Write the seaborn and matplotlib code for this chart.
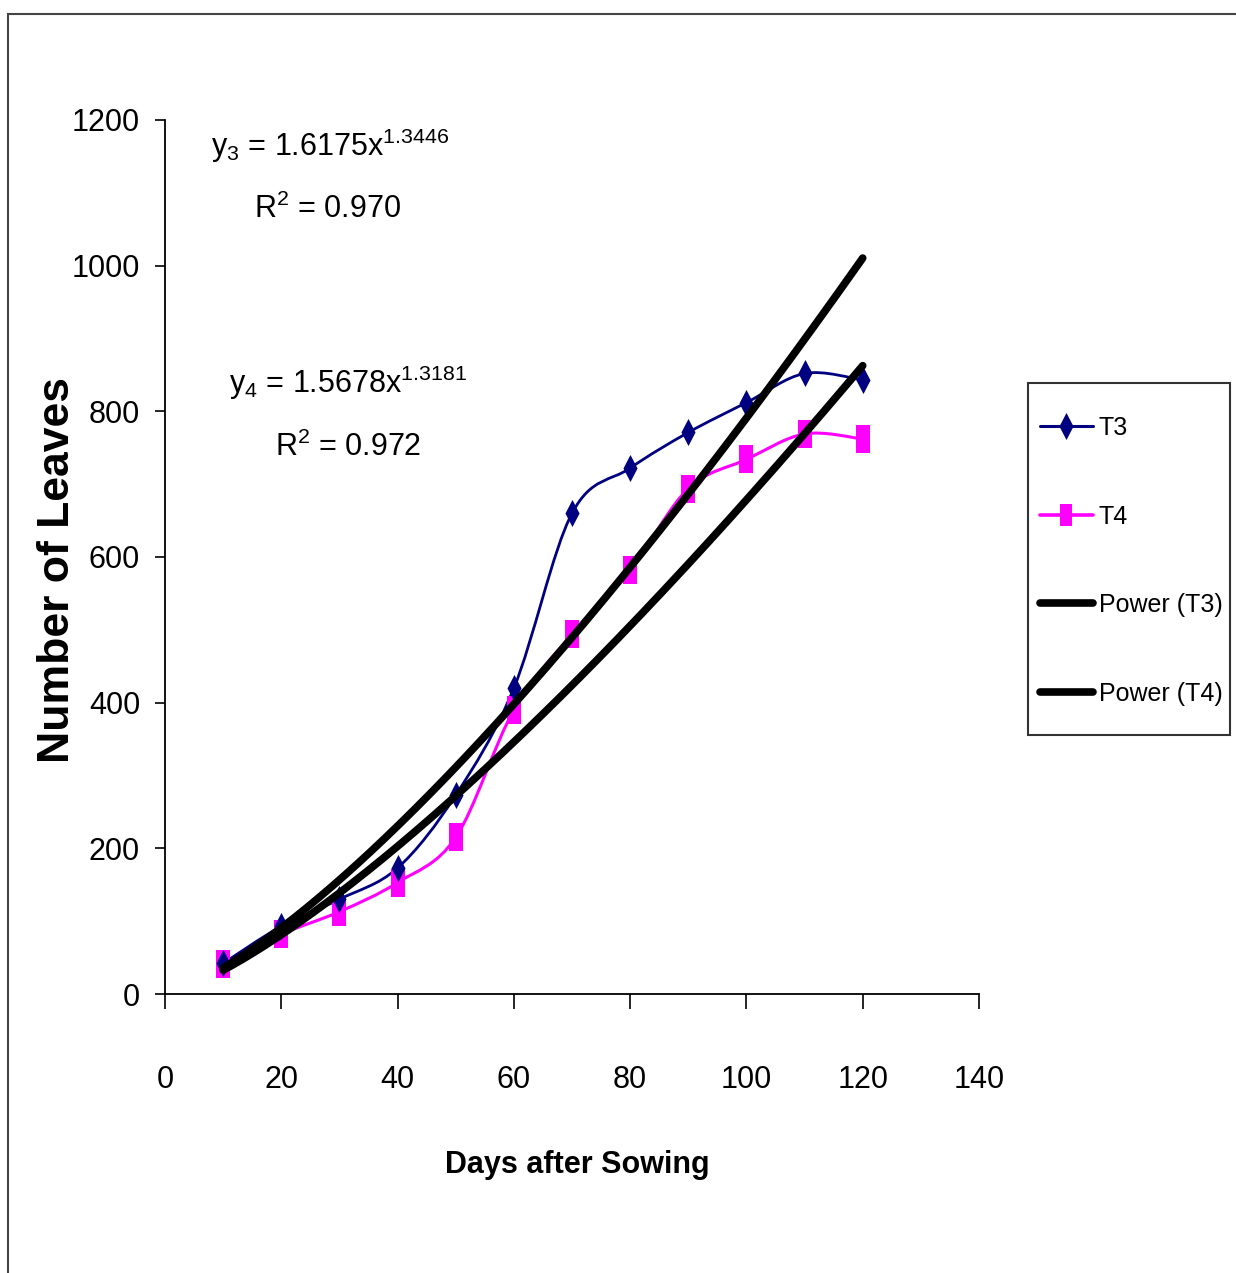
import numpy as np
import pandas as pd
import matplotlib
matplotlib.use("Agg")
import matplotlib.pyplot as plt
import seaborn as sns
from matplotlib.path import Path
from matplotlib.patches import PathPatch, Rectangle
from matplotlib.lines import Line2D

# ---- data ----
days = [10, 20, 30, 40, 50, 60, 70, 80, 90, 100, 110, 120]
t3 = [42, 93, 130, 173, 273, 420, 660, 722, 771, 812, 852, 843]
t4 = [41, 82, 113, 153, 215, 390, 494, 582, 694, 734, 769, 762]
x_ticks = [0, 20, 40, 60, 80, 100, 120, 140]
y_ticks = [0, 200, 400, 600, 800, 1000, 1200]
series_names = ["T3", "T4", "Power (T3)", "Power (T4)"]
fit_t3_a, fit_t3_b, fit_t3_r2 = 1.6175, 1.3446, "0.970"
fit_t4_a, fit_t4_b, fit_t4_r2 = 1.5678, 1.3181, "0.972"
x_label = "Days after Sowing"
y_label = "Number of Leaves"

W, H = 1236, 1273
sns.set_theme(style="ticks")
plt.rcParams["font.family"] = ["Liberation Sans", "DejaVu Sans"]
plt.rcParams["mathtext.default"] = "regular"
for k in ["text.color", "axes.labelcolor", "xtick.color", "ytick.color", "axes.edgecolor"]:
    plt.rcParams[k] = "black"

fig = plt.figure(figsize=(W / 100, H / 100), dpi=100)
fig.patch.set_facecolor("white")
ax = fig.add_axes([165 / W, 1 - 994 / H, (979 - 165) / W, (994 - 120) / H])
ax.set_facecolor("white")


def smooth_path(xs, ys):
    pts = np.column_stack([xs, ys]).astype(float)
    n = len(pts)
    verts = [pts[0]]
    codes = [Path.MOVETO]
    for i in range(n - 1):
        p0 = pts[i - 1] if i > 0 else pts[i]
        p1 = pts[i]
        p2 = pts[i + 1]
        p3 = pts[i + 2] if i + 2 < n else pts[i + 1]
        c1 = p1 + (p2 - p0) / 6.0
        c2 = p2 - (p3 - p1) / 6.0
        verts += [c1, c2, p2]
        codes += [Path.CURVE4] * 3
    return Path(verts, codes)


NAVY = "#000080"
MAG = "#FF00FF"
diamond = Path([(0, 1), (0.52, 0), (0, -1), (-0.52, 0), (0, 1)],
               [Path.MOVETO, Path.LINETO, Path.LINETO, Path.LINETO, Path.CLOSEPOLY])
tallsq = Path([(-0.52, -1), (0.52, -1), (0.52, 1), (-0.52, 1), (-0.52, -1)],
              [Path.MOVETO, Path.LINETO, Path.LINETO, Path.LINETO, Path.CLOSEPOLY])

# smooth data lines
ax.add_patch(PathPatch(smooth_path(days, t3), facecolor="none", edgecolor=NAVY, lw=2.0, zorder=3))
ax.add_patch(PathPatch(smooth_path(days, t4), facecolor="none", edgecolor=MAG, lw=2.2, zorder=2))

# markers
sns.lineplot(x=days, y=t4, ax=ax, linestyle="none", marker=tallsq, markersize=19.5,
             color=MAG, markeredgewidth=0, zorder=4, legend=False)
sns.lineplot(x=days, y=t3, ax=ax, linestyle="none", marker=diamond, markersize=19.5,
             color=NAVY, markeredgewidth=0, zorder=5, legend=False)

# power trendlines
xf = np.linspace(days[0], days[-1], 200)
fit_df = pd.DataFrame({
    "x": np.concatenate([xf, xf]),
    "y": np.concatenate([fit_t3_a * xf ** fit_t3_b, fit_t4_a * xf ** fit_t4_b]),
    "s": [series_names[2]] * len(xf) + [series_names[3]] * len(xf),
})
sns.lineplot(data=fit_df, x="x", y="y", hue="s", palette=["black", "black"], lw=5.5,
             ax=ax, legend=False, zorder=6, estimator=None)

ax.set_xlim(0, 140)
ax.set_ylim(0, 1200)
ax.set_xticks(x_ticks)
ax.set_xticklabels([str(v) for v in x_ticks])
ax.set_yticks(y_ticks)
ax.set_yticklabels([str(v) for v in y_ticks])
ax.set_xlabel("")
ax.set_ylabel("")
for s in ["top", "right"]:
    ax.spines[s].set_visible(False)
for s in ["left", "bottom"]:
    ax.spines[s].set_color("black")
    ax.spines[s].set_linewidth(1.3)
ax.tick_params(axis="x", direction="out", length=11, width=1.2, pad=40, labelsize=22)
ax.tick_params(axis="y", direction="out", length=7, width=1.2, pad=11, labelsize=22)
ax.grid(False)

# axis titles
fig.text(577 / W, 1 - 1165 / H, x_label, ha="center", va="center", fontsize=22,
         fontweight="bold")
fig.text(58 / W, 1 - 570 / H, y_label, ha="center", va="center", rotation=90, fontsize=32,
         fontweight="bold")

# equations
fig.text(330 / W, 1 - 156 / H, r"y$_3$ = %.4fx$^{%.4f}$" % (fit_t3_a, fit_t3_b),
         ha="center", va="baseline", fontsize=22)
fig.text(328 / W, 1 - 218 / H, r"R$^2$ = " + fit_t3_r2, ha="center", va="baseline", fontsize=22)
fig.text(348 / W, 1 - 393 / H, r"y$_4$ = %.4fx$^{%.4f}$" % (fit_t4_a, fit_t4_b),
         ha="center", va="baseline", fontsize=22)
fig.text(348 / W, 1 - 456 / H, r"R$^2$ = " + fit_t4_r2, ha="center", va="baseline", fontsize=22)

# legend (frame drawn separately to match the reference box)
handles = [
    Line2D([], [], color=NAVY, lw=2.2, marker=diamond, markersize=19.5, markeredgewidth=0),
    Line2D([], [], color=MAG, lw=2.6, marker=tallsq, markersize=16, markeredgewidth=0),
    Line2D([], [], color="black", lw=5.5),
    Line2D([], [], color="black", lw=5.5),
]
fs_leg = 18
leg = fig.legend(handles, series_names, loc="upper left",
                 bbox_to_anchor=(1040 / W, 1 - 416 / H), frameon=False,
                 fontsize=fs_leg, labelspacing=2.58, handlelength=2.1, handletextpad=0.25,
                 borderpad=0, borderaxespad=0)
fig.patches.append(Rectangle((1028 / W, 1 - 735 / H), (1230 - 1028) / W, (735 - 383) / H,
                             transform=fig.transFigure, fill=False, edgecolor="#333333", lw=1.5))

# outer frame (partially visible)
fig.patches.append(Rectangle((8 / W, -0.05), 1.2, 1 - 14 / H + 0.05, transform=fig.transFigure,
                             fill=False, edgecolor="#444444", lw=1.5))

fig.savefig("out.png", dpi=100, facecolor="white")
